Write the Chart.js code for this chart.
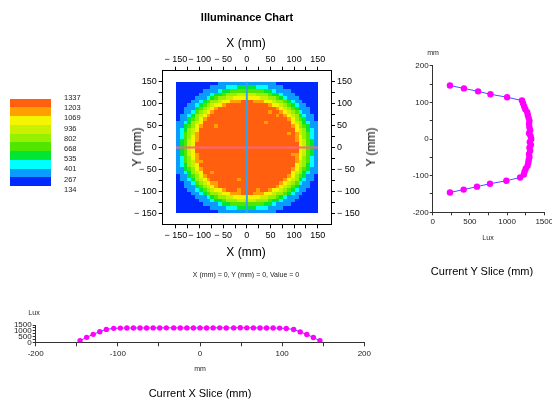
<!DOCTYPE html>
<html lang="en">
<head>
<meta charset="UTF-8">
<title>Illuminance Chart</title>
<script src="https://cdn.jsdelivr.net/npm/chart.js"></script>
<style>
  html, body { margin: 0; padding: 0; overflow: hidden; background: #fff; }
  body { width: 552px; height: 404px; position: relative; font-family: "Liberation Sans", Arial, sans-serif; color: #000; }
  canvas { position: absolute; }
  .t { position: absolute; white-space: nowrap; transform: translate(-50%, -50%); line-height: 1; will-change: transform; }
  .v { transform: translate(-50%, -50%) rotate(-90deg); }
  .s { color: #222; }
  #legend div { position: absolute; will-change: transform; }
</style>
</head>
<body>
<div class="t" style="left:247px;top:17px;font-size:11px;font-weight:bold">Illuminance Chart</div>
<div id="legend"></div>

<div class="t" style="left:246px;top:43px;font-size:12px">X (mm)</div>
<div class="t" style="left:246px;top:252px;font-size:12px">X (mm)</div>
<div class="t v" style="left:137px;top:147px;font-size:12px">Y (mm)</div>
<div class="t v" style="left:371px;top:147px;font-size:12px">Y (mm)</div>
<div class="t s" style="left:246px;top:274px;font-size:7px">X (mm) = 0, Y (mm) = 0, Value = 0</div>
<canvas id="heat" width="290" height="240" style="left:110px;top:28px"></canvas>

<div class="t s" style="left:433px;top:52px;font-size:7px">mm</div>
<div class="t s" style="left:488px;top:237px;font-size:7px">Lux</div>
<div class="t" style="left:482px;top:271px;font-size:11px">Current Y Slice (mm)</div>
<canvas id="ySlice" width="170" height="190" style="left:395px;top:45px"></canvas>

<div class="t s" style="left:34px;top:312px;font-size:7px">Lux</div>
<div class="t s" style="left:200px;top:368px;font-size:7px">mm</div>
<div class="t" style="left:200px;top:393px;font-size:11px">Current X Slice (mm)</div>
<canvas id="xSlice" width="400" height="65" style="left:0px;top:305px"></canvas>

<script>
// colour levels, lowest (0) to highest (9)
const levelColors = ['#0028ff', '#0a9bff', '#00ffff', '#00e632', '#50e600', '#96f000', '#c8f000', '#f5f500', '#ffa000', '#ff5f0f'];
const legendLabels = ['1337', '1203', '1069', '936', '802', '668', '535', '401', '267', '134'];

// heat map: 37 x 37 cells over -150..150 mm, one digit = colour level, top row first
const heatRows = [
  '0000000000011111111111111100000000000',
  '0000000001111222333332221111000000000',
  '0000000111123344444444433211110000000',
  '0000001112334555666665554332111000000',
  '0000011123455667777777665543211100000',
  '0000112345567788899988877655432110000',
  '0001123456778999999999998776543211000',
  '0011134567899999999999999987654311100',
  '0011245678999999999999999998765421100',
  '0112356789999999999999999999876532110',
  '0113457899999999999999999999987543110',
  '1123567999999999999999999999997653211',
  '1134578999999999999999999999998754311',
  '1235679999999999999999999999999765321',
  '1245689999999999999999999999999865421',
  '1245789999999999999999999999999875421',
  '1346789999999999999999999999999876431',
  '1346799999999999999999999999999976431',
  '1346799999999999999999999999999976431',
  '1346799999999999999999999999999976431',
  '1346789999999999999999999999999876431',
  '1245789999999999999999999999999875421',
  '1245689999999999999999999999999865421',
  '1235679999999999999999999999999765321',
  '1134578999999999999999999999998754311',
  '1123567999999999999999999999997653211',
  '0113457899999999999999999999987543110',
  '0112356789999999999999999999876532110',
  '0011245678999999999999999998765421100',
  '0011134567899999999999999987654311100',
  '0001123456778999999999998776543211000',
  '0000112345567788899988877655432110000',
  '0000011123455667777777665543211100000',
  '0000001112334555666665554332111000000',
  '0000000111123344444444433211110000000',
  '0000000001111222333332221111000000000',
  '0000000000011111111111111100000000000'
];
// lighter (level 8) specks inside the core: [column, row]
const heatSpecks = [[23, 11], [26, 9], [9, 25], [16, 27], [21, 30], [16, 30], [10, 12], [24, 8], [6, 22], [10, 28], [30, 20], [29, 14]];
const crossSpan = [-150, 150];
const heatTickValues = [-150, -125, -100, -75, -50, -25, 0, 25, 50, 75, 100, 125, 150];
const heatTickLabels = ['− 150', '', '− 100', '', '− 50', '', '0', '', '50', '', '100', '', '150'];

// slices through the centre (mm positions of the cells)
const slicePos = [-146, -138, -130, -122, -114, -105, -97, -89, -81, -73, -65, -57, -49, -41, -32, -24, -16, -8, 0,
                  8, 16, 24, 32, 41, 49, 57, 65, 73, 81, 89, 97, 105, 114, 122, 130, 138, 146];
const ySliceLux = [232, 416, 595, 770, 990, 1175, 1225, 1235, 1250, 1275, 1285, 1290, 1300, 1295, 1310, 1300, 1320, 1305, 1325,
                   1315, 1295, 1310, 1300, 1295, 1300, 1290, 1280, 1270, 1245, 1230, 1215, 1200, 1000, 776, 610, 420, 232];
const xSliceLux = [140, 430, 690, 920, 1120, 1210, 1230, 1240, 1235, 1245, 1240, 1250, 1245, 1255, 1250, 1245, 1250, 1240, 1250,
                   1245, 1250, 1255, 1245, 1250, 1260, 1255, 1250, 1245, 1240, 1235, 1230, 1200, 1110, 900, 680, 420, 130];
const luxTicks = [0, 250, 500, 750, 1000, 1250, 1500];
const luxTickLabels = ['0', '', '500', '', '1000', '', '1500'];
const mmTicksY = [-200, -150, -100, -50, 0, 50, 100, 150, 200];
const mmTickLabelsY = ['-200', '', '-100', '', '0', '', '100', '', '200'];
const mmTicksX = [-200, -150, -100, -50, 0, 50, 100, 150, 200];
const mmTickLabelsX = ['-200', '', '-100', '', '0', '', '100', '', '200'];

Chart.defaults.font.family = '"Liberation Sans", Arial, sans-serif';

// colour bar legend
const legend = document.getElementById('legend');
legendLabels.forEach((lab, i) => {
  const band = document.createElement('div');
  band.style.cssText = `left:10px;top:${98.7 + i * 8.73}px;width:40.7px;height:8.9px;background:${levelColors[9 - i]}`;
  legend.appendChild(band);
  const t = document.createElement('div');
  t.textContent = lab;
  t.style.cssText = `left:64px;top:${98 + i * 10.2}px;font-size:7.5px;line-height:1;color:#222;transform:translateY(-50%)`;
  legend.appendChild(t);
});

const heatCells = {
  id: 'heatCells',
  beforeDatasetsDraw(chart) {
    const { ctx, scales: { x, y } } = chart;
    const size = 300 / heatRows.length;
    ctx.save();
    heatRows.forEach((row, r) => {
      [...row].forEach((ch, c) => {
        const speck = heatSpecks.some(([sc, sr]) => sc === c && sr === r);
        const lvl = speck ? 8 : Number(ch);
        const x0 = Math.round(x.getPixelForValue(-150 + c * size));
        const x1 = Math.round(x.getPixelForValue(-150 + (c + 1) * size));
        const y0 = Math.round(y.getPixelForValue(150 - r * size));
        const y1 = Math.round(y.getPixelForValue(150 - (r + 1) * size));
        ctx.fillStyle = levelColors[lvl];
        ctx.fillRect(x0, y0, x1 - x0, y1 - y0);
      });
    });
    ctx.restore();
  }
};

function heatAxis(pos, size, isX) {
  return {
    type: 'linear', position: pos,
    min: isX ? -178 : -175.5, max: isX ? 178 : 175.5,
    afterBuildTicks: s => { s.ticks = heatTickValues.map(v => ({ value: v })); },
    afterFit: s => { if (isX) s.height = size; else s.width = size; },
    border: { color: '#000' },
    grid: { drawOnChartArea: false, tickLength: 4, color: '#000' },
    ticks: { autoSkip: false, maxRotation: 0, padding: 2, color: '#000', font: { size: 9 },
             callback: (v, i) => heatTickLabels[i] }
  };
}

new Chart(document.getElementById('heat'), {
  type: 'scatter',
  data: {
    datasets: [
      { data: crossSpan.map(v => ({ x: 0, y: v })) },
      { data: crossSpan.map(v => ({ x: v, y: 0 })) }
    ]
  },
  options: {
    responsive: false, animation: false,
    layout: { padding: 0 },
    datasets: { scatter: { showLine: true, borderColor: '#787878', borderWidth: 2, pointRadius: 0 } },
    plugins: { legend: { display: false }, tooltip: { enabled: false } },
    scales: {
      x: heatAxis('bottom', 43.7, true),
      x2: heatAxis('top', 42.7, true),
      y: heatAxis('left', 52.7, false),
      y2: heatAxis('right', 69, false)
    }
  },
  plugins: [heatCells]
});

function sliceAxis(pos, min, max, ticks, labels, size, tickLen, pad) {
  return {
    type: 'linear', position: pos, min, max,
    afterBuildTicks: s => { s.ticks = ticks.map(v => ({ value: v })); },
    afterFit: s => { if (pos === 'bottom') s.height = size; else s.width = size; },
    border: { color: '#333' },
    grid: { drawOnChartArea: false, tickLength: tickLen, color: '#333' },
    ticks: { autoSkip: false, maxRotation: 0, padding: pad, color: '#222', font: { size: 8 },
             callback: (v, i) => labels[i] }
  };
}

const sliceStyle = { showLine: true, borderColor: '#4b4bff', borderWidth: 1, pointBackgroundColor: '#ff00ff',
                     pointBorderColor: '#ff00ff', pointBorderWidth: 0 };

new Chart(document.getElementById('ySlice'), {
  type: 'scatter',
  data: { datasets: [Object.assign({ data: slicePos.map((p, i) => ({ x: ySliceLux[i], y: p })), pointRadius: 3.2 }, sliceStyle)] },
  options: {
    responsive: false, animation: false,
    layout: { padding: { left: 0, top: 20.7, right: 20.7, bottom: 0 } },
    plugins: { legend: { display: false }, tooltip: { enabled: false } },
    scales: {
      x: sliceAxis('bottom', 0, 1500, luxTicks, luxTickLabels, 22.7, 3, 2),
      y: sliceAxis('left', -200, 200, mmTicksY, mmTickLabelsY, 37.7, 3, 1)
    }
  }
});

new Chart(document.getElementById('xSlice'), {
  type: 'scatter',
  data: { datasets: [Object.assign({ data: slicePos.map((p, i) => ({ x: p, y: xSliceLux[i] })), pointRadius: 2.7 }, sliceStyle)] },
  options: {
    responsive: false, animation: false,
    layout: { padding: { left: 0, top: 20, right: 35.7, bottom: 0 } },
    plugins: { legend: { display: false }, tooltip: { enabled: false } },
    scales: {
      x: sliceAxis('bottom', -200, 200, mmTicksX, mmTickLabelsX, 27.7, 4, 3),
      y: sliceAxis('left', 0, 1500, luxTicks, luxTickLabels, 35.7, 3, 1)
    }
  }
});
</script>
</body>
</html>
